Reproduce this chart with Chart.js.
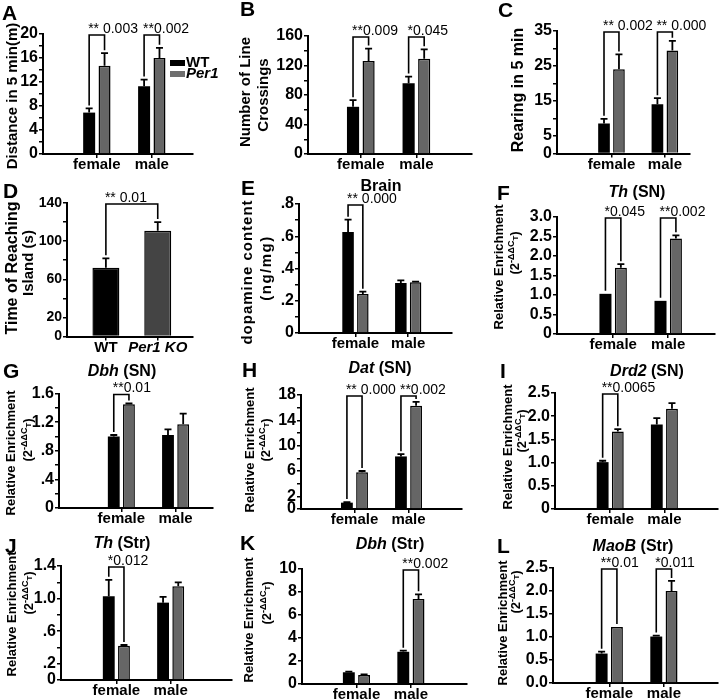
<!DOCTYPE html>
<html><head><meta charset="utf-8">
<script src="https://cdn.jsdelivr.net/npm/chart.js@4.4.1/dist/chart.umd.min.js"></script>
<style>
html,body{margin:0;padding:0;background:#fff}
#wrap{position:relative;width:720px;height:699px;overflow:hidden;background:#fff}
#wrap canvas{position:absolute;left:0;top:0}
</style></head><body><div id="wrap"></div>
<script>
const FF = '"Liberation Sans", Arial, Helvetica, sans-serif';

// ---------- categories ----------
const sexes = ['female', 'male'];
const genotypes = ['WT', 'Per1 KO'];
const seriesLabels = ['WT', 'Per1'];

// ---------- A: distance in 5 min ----------
const distWT = [6.9, 11.3], distWTse = [0.7, 1.1];
const distPer1 = [14.7, 16.0], distPer1se = [2.1, 1.7];
const distTicks = [0, 4, 8, 12, 16, 20], distTickText = ['0', '4', '8', '12', '16', '20'];
const distP = ['** 0.003', '**0.002'];
// ---------- B: line crossings ----------
const crossWT = [64, 96], crossWTse = [9, 9];
const crossPer1 = [126, 129], crossPer1se = [17, 13];
const crossTicks = [0, 40, 80, 120, 160], crossTickText = ['0', '40', '80', '120', '160'];
const crossP = ['**0.009', '*0.045'];
// ---------- C: rearing ----------
const rearWT = [8.6, 14.1], rearWTse = [1.3, 1.7];
const rearPer1 = [24.1, 29.4], rearPer1se = [4.2, 2.8];
const rearTicks = [0, 5, 15, 25, 35], rearTickText = ['0', '5', '15', '25', '35'];
const rearP = ['** 0.002', '** 0.000'];
// ---------- D: time reaching island ----------
const islandTime = [72, 111], islandTimeSe = [10, 9];
const islandTicks = [0, 20, 60, 100, 140], islandTickText = ['0', '20', '60', '100', '140'];
const islandP = ['** 0.01'];
// ---------- E: brain dopamine ----------
const daWT = [0.626, 0.31], daWTse = [0.077, 0.016];
const daPer1 = [0.242, 0.314], daPer1se = [0.014, 0.004];
const daTicks = [0, 0.2, 0.4, 0.6, 0.8], daTickText = ['0', '.2', '.4', '.6', '.8'];
const daP = ['** 0.000', null];
// ---------- F: Th (SN) ----------
const thSnWT = [1.03, 0.85], thSnWTse = [0, 0];
const thSnPer1 = [1.70, 2.45], thSnPer1se = [0.09, 0.08];
const thSnTicks = [0, 0.5, 1, 1.5, 2, 2.5, 3], thSnTickText = ['0', '0.5', '1.0', '1.5', '2.0', '2.5', '3.0'];
const thSnP = ['*0.045', '**0.002'];
// ---------- G: Dbh (SN) ----------
const dbhSnWT = [1.0, 1.02], dbhSnWTse = [0.02, 0.08];
const dbhSnPer1 = [1.45, 1.17], dbhSnPer1se = [0.01, 0.15];
const dbhSnTicks = [0, 0.4, 0.8, 1.2, 1.6], dbhSnTickText = ['0', '.4', '.8', '1.2', '1.6'];
const dbhSnP = ['**0.01', null];
// ---------- H: Dat (SN) ----------
const datWT = [1.0, 8.3], datWTse = [0.1, 0.35];
const datPer1 = [5.8, 16.3], datPer1se = [0.2, 0.6];
const datTicks = [0, 2, 6, 10, 14, 18], datTickText = ['0', '2', '6', '10', '14', '18'];
const datP = ['** 0.000', '**0.002'];
// ---------- I: Drd2 (SN) ----------
const drd2WT = [1.01, 1.82], drd2WTse = [0.03, 0.14];
const drd2Per1 = [1.67, 2.16], drd2Per1se = [0.05, 0.12];
const drd2Ticks = [0, 0.5, 1, 1.5, 2, 2.5], drd2TickText = ['0', '0.5', '1.0', '1.5', '2.0', '2.5'];
const drd2P = ['**0.0065', null];
// ---------- J: Th (Str) ----------
const thStrWT = [1.03, 0.95], thStrWTse = [0.2, 0.07];
const thStrPer1 = [0.42, 1.15], thStrPer1se = [0.01, 0.05];
const thStrTicks = [0, 0.2, 0.6, 1.0, 1.4], thStrTickText = ['0', '.2', '.6', '1.0', '1.4'];
const thStrP = ['*0.012', null];
// ---------- K: Dbh (Str) ----------
const dbhStrWT = [1.02, 2.8], dbhStrWTse = [0.05, 0.1];
const dbhStrPer1 = [0.78, 7.4], dbhStrPer1se = [0.06, 0.4];
const dbhStrTicks = [0, 2, 4, 6, 8, 10], dbhStrTickText = ['0', '2', '4', '6', '8', '10'];
const dbhStrP = [null, '**0.002'];
// ---------- L: MaoB (Str) ----------
const maobWT = [0.64, 1.01], maobWTse = [0.04, 0.02];
const maobPer1 = [1.22, 2.0], maobPer1se = [0, 0.22];
const maobTicks = [0, 0.5, 1, 1.5, 2, 2.5], maobTickText = ['0.0', '0.5', '1.0', '1.5', '2.0', '2.5'];
const maobP = ['**0.01', '*0.011'];

// ---------- helpers for text ----------
const T = (t, s, extra) => [Object.assign({ t, s }, extra || {})];
const RE1 = T('Relative Enrichment', 13);
const RE2 = [{ t: '(2', s: 13 }, { t: '-ΔΔC', s: 9, dy: -5 }, { t: 'T', s: 8, dy: -1 }, { t: ')', s: 13 }];
const gene = (g, r) => [{ t: g, s: 16, i: true }, { t: ' (' + r + ')', s: 16 }];

// ---------- panel layouts ----------
const panels = [
  { letter: ['A', 2, 20], box: { l: 43, t: 34, r: 193, b: 154 }, xr: [-0.98, 1.75], yMax: 20, step: 2,
    tv: distTicks, tt: distTickText, series: [[distWT, distWTse], [distPer1, distPer1se]], pv: distP,
    yt: [{ p: T('Distance in 5 min(m)', 15), x: 12, y: 96 }], legend: { x: 170, y: 60 } },
  { letter: ['B', 240, 16], box: { l: 308, t: 36, r: 472, b: 154 }, xr: [-0.95, 2.0], yMax: 160, step: 20,
    tv: crossTicks, tt: crossTickText, series: [[crossWT, crossWTse], [crossPer1, crossPer1se]], pv: crossP,
    yt: [{ p: T('Number of Line', 15), x: 245, y: 92 }, { p: T('Crossings', 15), x: 263, y: 95 }] },
  { letter: ['C', 498, 17], box: { l: 557, t: 31, r: 690, b: 153.5 }, xr: [-1.02, 1.47], yMax: 35, step: 5,
    tv: rearTicks, tt: rearTickText, series: [[rearWT, rearWTse], [rearPer1, rearPer1se]], pv: rearP,
    yt: [{ p: T('Rearing in 5 min', 16), x: 517, y: 90 }] },
  { letter: ['D', 3, 198], box: { l: 67, t: 203, r: 193, b: 336.5 }, xr: [-0.75, 1.68], yMax: 140, step: 20, tf: 14,
    tv: islandTicks, tt: islandTickText, single: [islandTime, islandTimeSe], cats: genotypes, italicLast: true, pv: islandP,
    yt: [{ p: T('Time of Reaching', 16), x: 11, y: 268 }, { p: T('Island (s)', 15), x: 28, y: 263 }] },
  { letter: ['E', 241, 195], box: { l: 299, t: 204, r: 452, b: 333 }, xr: [-1.07, 1.83], yMax: 0.8, step: 0.1,
    tv: daTicks, tt: daTickText, series: [[daWT, daWTse], [daPer1, daPer1se]], pv: daP,
    title: { p: T('Brain', 16), x: 381, y: 185 },
    yt: [{ p: T('dopamine content', 15), x: 247, y: 272, sp: 1 }, { p: T('(ng/mg)', 15), x: 266, y: 268, sp: 1.5 }] },
  { letter: ['F', 497, 200], box: { l: 557, t: 217, r: 715, b: 334 }, xr: [-1.02, 1.85], yMax: 3, step: 0.5,
    tv: thSnTicks, tt: thSnTickText, series: [[thSnWT, thSnWTse], [thSnPer1, thSnPer1se]], pv: thSnP,
    title: { p: gene('Th', 'SN'), x: 637, y: 191 },
    yt: [{ p: RE1, x: 498, y: 267 }, { p: RE2, x: 514, y: 253 }] },
  { letter: ['G', 3, 378], box: { l: 59, t: 393.5, r: 213, b: 508 }, xr: [-1.15, 1.69], yMax: 1.6, step: 0.2,
    tv: dbhSnTicks, tt: dbhSnTickText, series: [[dbhSnWT, dbhSnWTse], [dbhSnPer1, dbhSnPer1se]], pv: dbhSnP,
    title: { p: gene('Dbh', 'SN'), x: 122, y: 370 },
    yt: [{ p: RE1, x: 10, y: 453 }, { p: RE2, x: 27, y: 440 }] },
  { letter: ['H', 242, 377], box: { l: 301, t: 395, r: 462, b: 509 }, xr: [-0.99, 1.99], yMax: 18, step: 2,
    tv: datTicks, tt: datTickText, series: [[datWT, datWTse], [datPer1, datPer1se]], pv: datP,
    title: { p: gene('Dat', 'SN'), x: 380, y: 367 },
    yt: [{ p: RE1, x: 249, y: 450 }, { p: RE2, x: 265, y: 440 }] },
  { letter: ['I', 500, 378], box: { l: 555, t: 393, r: 718, b: 509 }, xr: [-1.02, 1.99], yMax: 2.5, step: 0.5,
    tv: drd2Ticks, tt: drd2TickText, series: [[drd2WT, drd2WTse], [drd2Per1, drd2Per1se]], pv: drd2P,
    title: { p: gene('Drd2', 'SN'), x: 647, y: 370 },
    yt: [{ p: RE1, x: 507, y: 447 }, { p: RE2, x: 521, y: 431 }] },
  { letter: ['J', 5, 553], box: { l: 61, t: 566, r: 232, b: 680 }, xr: [-1.02, 2.13], yMax: 1.4, step: 0.2,
    tv: thStrTicks, tt: thStrTickText, series: [[thStrWT, thStrWTse], [thStrPer1, thStrPer1se]], pv: thStrP,
    title: { p: gene('Th', 'Str'), x: 122, y: 542 },
    yt: [{ p: RE1, x: 11, y: 614 }, { p: RE2, x: 28, y: 593 }] },
  { letter: ['K', 240, 550], box: { l: 302, t: 569, r: 467, b: 684 }, xr: [-1.0, 2.03], yMax: 10, step: 2,
    tv: dbhStrTicks, tt: dbhStrTickText, series: [[dbhStrWT, dbhStrWTse], [dbhStrPer1, dbhStrPer1se]], pv: dbhStrP,
    title: { p: gene('Dbh', 'Str'), x: 390, y: 543 },
    yt: [{ p: RE1, x: 248, y: 620 }, { p: RE2, x: 266, y: 603 }] },
  { letter: ['L', 497, 553], box: { l: 553, t: 568, r: 718, b: 683 }, xr: [-1.03, 1.99], yMax: 2.5, step: 0.5,
    tv: maobTicks, tt: maobTickText, series: [[maobWT, maobWTse], [maobPer1, maobPer1se]], pv: maobP,
    title: { p: gene('MaoB', 'Str'), x: 633, y: 545 },
    yt: [{ p: RE1, x: 502, y: 623 }, { p: RE2, x: 515, y: 592 }] }
];

function fnt(s, i, w) { return (i ? 'italic ' : '') + (w || 'bold') + ' ' + s + 'px ' + FF; }

function drawParts(ctx, parts, cx, cy, rot, sp) {
  ctx.save();
  ctx.translate(cx, cy);
  if (rot) ctx.rotate(-Math.PI / 2);
  ctx.textAlign = 'left'; ctx.textBaseline = 'alphabetic'; ctx.fillStyle = '#000';
  if (sp) ctx.letterSpacing = sp + 'px';
  let tot = 0;
  const ws = parts.map(p => { ctx.font = fnt(p.s, p.i); const w = ctx.measureText(p.t).width; tot += w; return w; });
  let x = -tot / 2;
  const base = parts[0].s * 0.36;
  parts.forEach((p, k) => { ctx.font = fnt(p.s, p.i); ctx.fillText(p.t, x, base + (p.dy || 0)); x += ws[k]; });
  ctx.restore();
}

function makeDecor(p) {
  return {
    id: 'decor',
    afterDatasetsDraw(chart) {
      const ctx = chart.ctx, ys = chart.scales.y;
      ctx.save();
      ctx.strokeStyle = '#000'; ctx.lineWidth = 1.8; ctx.lineCap = 'butt';
      // error bars (upper only)
      chart.data.datasets.forEach((ds, di) => {
        const meta = chart.getDatasetMeta(di);
        meta.data.forEach((el, i) => {
          const e = ds.errors[i]; if (!e) return;
          const yt = ys.getPixelForValue(ds.data[i].y + e);
          ctx.beginPath();
          ctx.moveTo(el.x, el.y); ctx.lineTo(el.x, yt);
          ctx.moveTo(el.x - 3.5, yt); ctx.lineTo(el.x + 3.5, yt);
          ctx.stroke();
        });
      });
      // significance brackets
      const topY = ys.getPixelForValue(p.yMax) + 1;
      p.brackets.forEach(b => {
        const dl = chart.data.datasets[b.l[0]], dr = chart.data.datasets[b.r[0]];
        const el = chart.getDatasetMeta(b.l[0]).data[b.l[1]];
        const er = chart.getDatasetMeta(b.r[0]).data[b.r[1]];
        const yl = ys.getPixelForValue(dl.data[b.l[1]].y + (dl.errors[b.l[1]] || 0)) - 3;
        const yr = ys.getPixelForValue(dr.data[b.r[1]].y + (dr.errors[b.r[1]] || 0)) - 3;
        ctx.lineWidth = 1.6;
        ctx.beginPath();
        ctx.moveTo(el.x, yl); ctx.lineTo(el.x, topY); ctx.lineTo(er.x, topY); ctx.lineTo(er.x, yr);
        ctx.stroke();
        ctx.font = '14px ' + FF; ctx.fillStyle = '#000'; ctx.textAlign = 'left'; ctx.textBaseline = 'alphabetic';
        ctx.fillText(b.text, el.x - 1, topY - 2.5);
      });
      ctx.restore();
    },
    afterDraw(chart) {
      const ctx = chart.ctx;
      ctx.save();
      ctx.fillStyle = '#000'; ctx.textAlign = 'left'; ctx.textBaseline = 'alphabetic';
      ctx.font = fnt(21); ctx.fillText(p.letter[0], p.letter[1], p.letter[2]);
      ctx.restore();
      if (p.title) drawParts(ctx, p.title.p, p.title.x, p.title.y, false);
      p.yt.forEach(l => drawParts(ctx, l.p, l.x, l.y, true, l.sp));
      if (p.legend) {
        ctx.save();
        chart.data.datasets.forEach((ds, k) => {
          const y = p.legend.y + k * 11;
          ctx.fillStyle = k ? '#6e6e6e' : '#000';
          ctx.fillRect(p.legend.x, y, 15, 6);
          ctx.fillStyle = '#000'; ctx.font = fnt(15, k === 1); ctx.textBaseline = 'alphabetic';
          ctx.fillText(ds.label, p.legend.x + 16, y + 7);
        });
        ctx.restore();
      }
    }
  };
}

const wrap = document.getElementById('wrap');
const YW = 40, XH = 18;

panels.forEach(p => {
  p.cats = p.cats || sexes;
  let datasets;
  p.brackets = [];
  if (p.single) {
    datasets = [{ label: 'time', data: p.cats.map((c, i) => ({ x: i, y: p.single[0][i] })), errors: p.single[1],
      backgroundColor: ['#000', '#444'], borderColor: '#000', borderWidth: 1.5,
      categoryPercentage: 0.52, barPercentage: 1 }];
    p.brackets.push({ l: [0, 0], r: [0, 1], text: p.pv[0] });
  } else {
    datasets = p.series.map((s, k) => ({ label: seriesLabels[k],
      data: p.cats.map((c, i) => ({ x: i, y: s[0][i] })), errors: s[1],
      backgroundColor: k ? '#666' : '#000', borderColor: '#000', borderWidth: k ? 1.5 : 0,
      categoryPercentage: 0.56, barPercentage: 0.78 }));
    p.pv.forEach((t, i) => { if (t) p.brackets.push({ l: [0, i], r: [1, i], text: t }); });
  }
  const c = document.createElement('canvas');
  c.width = 720; c.height = 699;
  wrap.appendChild(c);
  new Chart(c, {
    type: 'bar',
    data: { datasets },
    options: {
      responsive: false, animation: false, devicePixelRatio: 1,
      layout: { padding: { left: p.box.l - YW, top: p.box.t, right: 720 - p.box.r, bottom: 699 - p.box.b - XH } },
      plugins: { legend: { display: false }, tooltip: { enabled: false } },
      scales: {
        x: { type: 'linear', min: p.xr[0], max: p.xr[1], offset: false, z: 1,
          afterBuildTicks: s => { s.ticks = p.cats.map((c, i) => ({ value: i })); },
          afterFit: s => { s.height = XH; },
          ticks: { autoSkip: false, maxRotation: 0, padding: -2, color: '#000',
            callback: v => p.cats[Math.round(v)] ?? '',
            font: ctx => ({ family: FF, size: 15, weight: 'bold', style: (p.italicLast && ctx.index === 1) ? 'italic' : 'normal' }) },
          grid: { display: true, drawOnChartArea: false, drawTicks: true, tickLength: 4, color: '#000', lineWidth: 1.5, offset: false },
          border: { display: true, color: '#000', width: 2 } },
        y: { type: 'linear', min: 0, max: p.yMax, z: 1,
          afterFit: s => { s.width = YW; },
          ticks: { stepSize: p.step, autoSkip: false, padding: 1, color: '#000',
            font: { family: FF, size: p.tf || 16, weight: 'bold' },
            callback: v => { const k = p.tv.findIndex(t => Math.abs(t - v) < 1e-6); return k >= 0 ? p.tt[k] : ''; } },
          grid: { display: true, drawOnChartArea: false, drawTicks: true, tickLength: 4, color: '#000', lineWidth: 1.5 },
          border: { display: true, color: '#000', width: 2 } }
      }
    },
    plugins: [makeDecor(p)]
  });
});
</script>
</body></html>
